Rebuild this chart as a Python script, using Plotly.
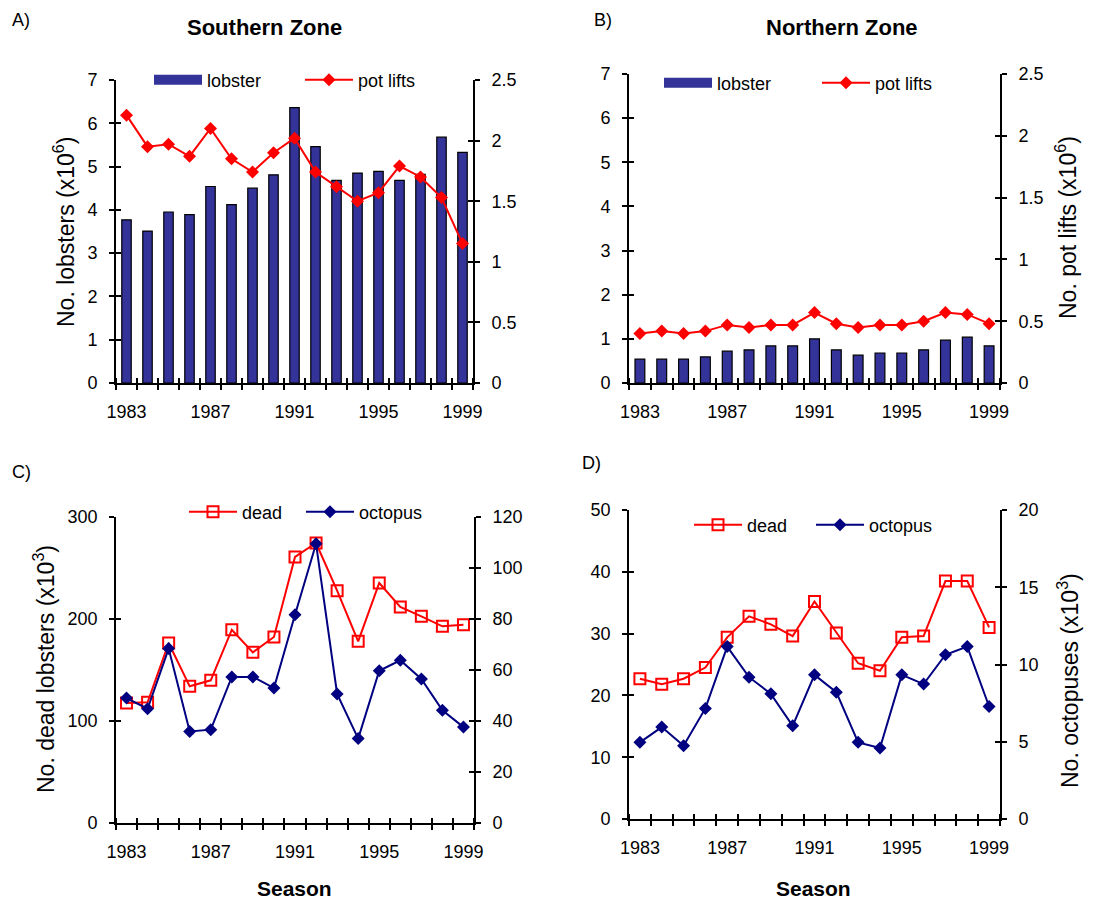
import plotly.graph_objects as go

# ---------------- data ----------------
years = list(range(1983, 2000))
year_ticks = [1983, 1987, 1991, 1995, 1999]

south_lobster = [3.77, 3.51, 3.95, 3.89, 4.54, 4.12, 4.50, 4.81, 6.36, 5.46, 4.68, 4.85, 4.89, 4.68, 4.82, 5.68, 5.33]
south_potlifts = [2.21, 1.95, 1.97, 1.87, 2.10, 1.85, 1.74, 1.90, 2.02, 1.74, 1.62, 1.50, 1.57, 1.79, 1.70, 1.53, 1.15]

north_lobster = [0.54, 0.54, 0.54, 0.59, 0.72, 0.75, 0.84, 0.84, 1.00, 0.75, 0.63, 0.68, 0.68, 0.75, 0.97, 1.04, 0.84]
north_potlifts = [0.40, 0.42, 0.40, 0.42, 0.47, 0.45, 0.47, 0.47, 0.57, 0.48, 0.45, 0.47, 0.47, 0.50, 0.57, 0.555, 0.48]

south_dead = [117.6, 118.3, 176.5, 134, 139.9, 189.5, 167.3, 182.4, 260.8, 274.5, 227.8, 178.1, 235.3, 211.8, 202.6, 192.8, 194.4]
south_octopus = [49.0, 44.8, 68.4, 35.9, 36.6, 57.3, 57.3, 52.9, 81.7, 109.5, 50.6, 33.1, 59.7, 63.8, 56.5, 44.2, 37.6]

north_dead = [22.7, 21.8, 22.7, 24.5, 29.4, 32.8, 31.5, 29.6, 35.2, 30.1, 25.2, 24.0, 29.4, 29.6, 38.5, 38.5, 31.0]
north_octopus = [4.96, 5.95, 4.74, 7.16, 11.16, 9.18, 8.10, 6.03, 9.33, 8.21, 4.96, 4.59, 9.33, 8.73, 10.63, 11.16, 7.28]

# ---------------- style ----------------
W, H = 1113, 902
FONT = "Liberation Sans, Arial, sans-serif"
BAR = "#333399"
RED = "#FF0000"
NAVY = "#000080"


def px(x):
    return x / W


def py(y):
    return 1 - y / H


fig = go.Figure()

minor_vals = [y - 0.5 for y in years] + [years[-1] + 0.5]
xrange = [years[0] - 0.5, years[-1] + 0.5]

layout = dict(
    width=W, height=H, margin=dict(l=0, r=0, t=0, b=0, autoexpand=False),
    paper_bgcolor="white", plot_bgcolor="white",
    font=dict(family=FONT, size=18, color="black"),
    showlegend=True, annotations=[],
)

panels = [
    dict(xd=(116, 473), yd=(80, 383), lr=[0, 7], ld=1, rr=[0, 2.5], rd=0.5),
    dict(xd=(629, 1000), yd=(74, 383), lr=[0, 7], ld=1, rr=[0, 2.5], rd=0.5),
    dict(xd=(116, 474), yd=(517, 823), lr=[0, 300], ld=100, rr=[0, 120], rd=20),
    dict(xd=(629, 1000), yd=(510, 819), lr=[0, 50], ld=10, rr=[0, 20], rd=5),
]

LW = 1.6
TL = 5
extra_x = 5
extra_y = 9
for i, p in enumerate(panels):
    xn = i + 1
    yl = 2 * i + 1
    yr = 2 * i + 2
    xk = "xaxis" if xn == 1 else f"xaxis{xn}"
    xr = "x" if xn == 1 else f"x{xn}"
    ylk = "yaxis" if yl == 1 else f"yaxis{yl}"
    ylr = "y" if yl == 1 else f"y{yl}"
    yrk = f"yaxis{yr}"
    xdom = [px(p["xd"][0]), px(p["xd"][1])]
    ydom = [py(p["yd"][1]), py(p["yd"][0])]
    layout[xk] = dict(domain=xdom, anchor=ylr, range=xrange, tickmode="array",
                      tickvals=year_ticks, ticktext=[str(v) for v in year_ticks],
                      ticks="", showline=True, linecolor="black", linewidth=LW,
                      showgrid=False, zeroline=False, ticklabelstandoff=12,
                      tickfont=dict(size=18),
                      minor=dict(tickmode="array", tickvals=minor_vals, ticks="outside",
                                 ticklen=TL, tickwidth=LW, tickcolor="black", showgrid=False))
    layout[ylk] = dict(domain=ydom, anchor=xr, range=p["lr"], dtick=p["ld"], tick0=0,
                       ticks="outside", ticklen=TL, tickwidth=LW, tickcolor="black",
                       showline=True, linecolor="black", linewidth=LW, showgrid=False,
                       zeroline=False, ticklabelstandoff=8, tickfont=dict(size=18))
    layout[yrk] = dict(overlaying=ylr, anchor=xr, side="right", range=p["rr"], dtick=p["rd"],
                       tick0=0, ticks="outside", ticklen=TL, tickwidth=LW, tickcolor="black",
                       showline=True, linecolor="black", linewidth=LW, showgrid=False,
                       zeroline=False, ticklabelstandoff=8, tickfont=dict(size=18))
    # inside-tick overlays (to produce crossing tick marks)
    xo = extra_x
    extra_x += 1
    layout[f"xaxis{xo}"] = dict(overlaying=xr, anchor=ylr, range=xrange, tickmode="array",
                                tickvals=[], ticks="", showticklabels=False, showline=False,
                                showgrid=False, zeroline=False,
                                minor=dict(tickmode="array", tickvals=minor_vals, ticks="inside",
                                           ticklen=TL, tickwidth=LW, tickcolor="black", showgrid=False))
    fig.add_trace(go.Scatter(x=[None], y=[None], xaxis=f"x{xo}", yaxis=ylr, showlegend=False,
                             hoverinfo="skip"))
    for side, rng, dt in (("left", p["lr"], p["ld"]), ("right", p["rr"], p["rd"])):
        yo = extra_y
        extra_y += 1
        layout[f"yaxis{yo}"] = dict(overlaying=ylr, anchor=xr, side=side, range=rng, dtick=dt,
                                    tick0=0, ticks="inside", ticklen=TL, tickwidth=LW,
                                    tickcolor="black", showticklabels=False, showline=False,
                                    showgrid=False, zeroline=False)
        fig.add_trace(go.Scatter(x=[None], y=[None], xaxis=xr, yaxis=f"y{yo}", showlegend=False,
                                 hoverinfo="skip"))


# ---------------- traces ----------------
def bar_panel(lob, pot, xr, yl, yr, leg_a, leg_b):
    fig.add_trace(go.Bar(x=years, y=lob, width=0.45, xaxis=xr, yaxis=yl,
                         marker=dict(color=BAR, line=dict(color="black", width=1.2)),
                         showlegend=False, name="lobster"))
    # legend entry drawn as a wide band
    fig.add_trace(go.Scatter(x=[None], y=[None], xaxis=xr, yaxis=yl, mode="lines",
                             line=dict(color=BAR, width=12), name="lobster", legend=leg_a))
    fig.add_trace(go.Scatter(x=years, y=pot, xaxis=xr, yaxis=yr, mode="lines+markers",
                             line=dict(color=RED, width=2),
                             marker=dict(symbol="diamond", size=10, color=RED),
                             name="pot lifts", legend=leg_b))


def line_panel(dead, octo, xr, yl, yr, leg_a, leg_b):
    fig.add_trace(go.Scatter(x=years, y=dead, xaxis=xr, yaxis=yl, mode="lines+markers",
                             line=dict(color=RED, width=2),
                             marker=dict(symbol="square-open", size=11, color=RED,
                                         line=dict(width=2, color=RED)),
                             name="dead", legend=leg_a))
    fig.add_trace(go.Scatter(x=years, y=octo, xaxis=xr, yaxis=yr, mode="lines+markers",
                             line=dict(color=NAVY, width=2),
                             marker=dict(symbol="diamond", size=10, color=NAVY),
                             name="octopus", legend=leg_b))


bar_panel(south_lobster, south_potlifts, "x", "y", "y2", "legend", "legend2")
bar_panel(north_lobster, north_potlifts, "x2", "y3", "y4", "legend3", "legend4")
line_panel(south_dead, south_octopus, "x3", "y5", "y6", "legend5", "legend6")
line_panel(north_dead, north_octopus, "x4", "y7", "y8", "legend7", "legend8")


# ---------------- legends (one entry each) ----------------
def leg(x, y):
    return dict(x=px(x), y=py(y), xanchor="left", yanchor="middle", orientation="h",
                itemwidth=48, bgcolor="rgba(0,0,0,0)", borderwidth=0,
                font=dict(size=18, family=FONT, color="black"))


layout["legend"] = leg(149, 80)
layout["legend2"] = leg(300, 80)
layout["legend3"] = leg(659, 83)
layout["legend4"] = leg(817, 83)
layout["legend5"] = leg(184, 512)
layout["legend6"] = leg(301, 512)
layout["legend7"] = leg(689, 525)
layout["legend8"] = leg(811, 525)


# ---------------- annotations ----------------
def ann(text, x, y, size=18, bold=False, angle=0):
    t = f"<b>{text}</b>" if bold else text
    layout["annotations"].append(dict(text=t, x=px(x), y=py(y), xref="paper", yref="paper",
                                      xanchor="center", yanchor="middle", showarrow=False,
                                      textangle=angle,
                                      font=dict(size=size, family=FONT, color="black")))


ann("A)", 21, 20)
ann("B)", 603, 20)
ann("C)", 21, 472)
ann("D)", 592, 463)
ann("Southern Zone", 264, 28, size=22, bold=True)
ann("Northern Zone", 842, 28, size=22, bold=True)
ann("No. lobsters (x10<sup>6</sup>)", 64, 232, size=23, angle=-90)
ann("No. pot lifts (x10<sup>6</sup>)", 1066, 228, size=23, angle=-90)
ann("No. dead lobsters (x10<sup>3</sup>)", 44, 669, size=23, angle=-90)
ann("No. octopuses (x10<sup>3</sup>)", 1068, 681, size=23, angle=-90)
ann("Season", 294, 888, size=21, bold=True)
ann("Season", 813, 888, size=21, bold=True)

fig.update_layout(**layout)
fig.write_html("out.html", config={"displayModeBar": False},
               post_script="document.body.style.margin='0px';")
